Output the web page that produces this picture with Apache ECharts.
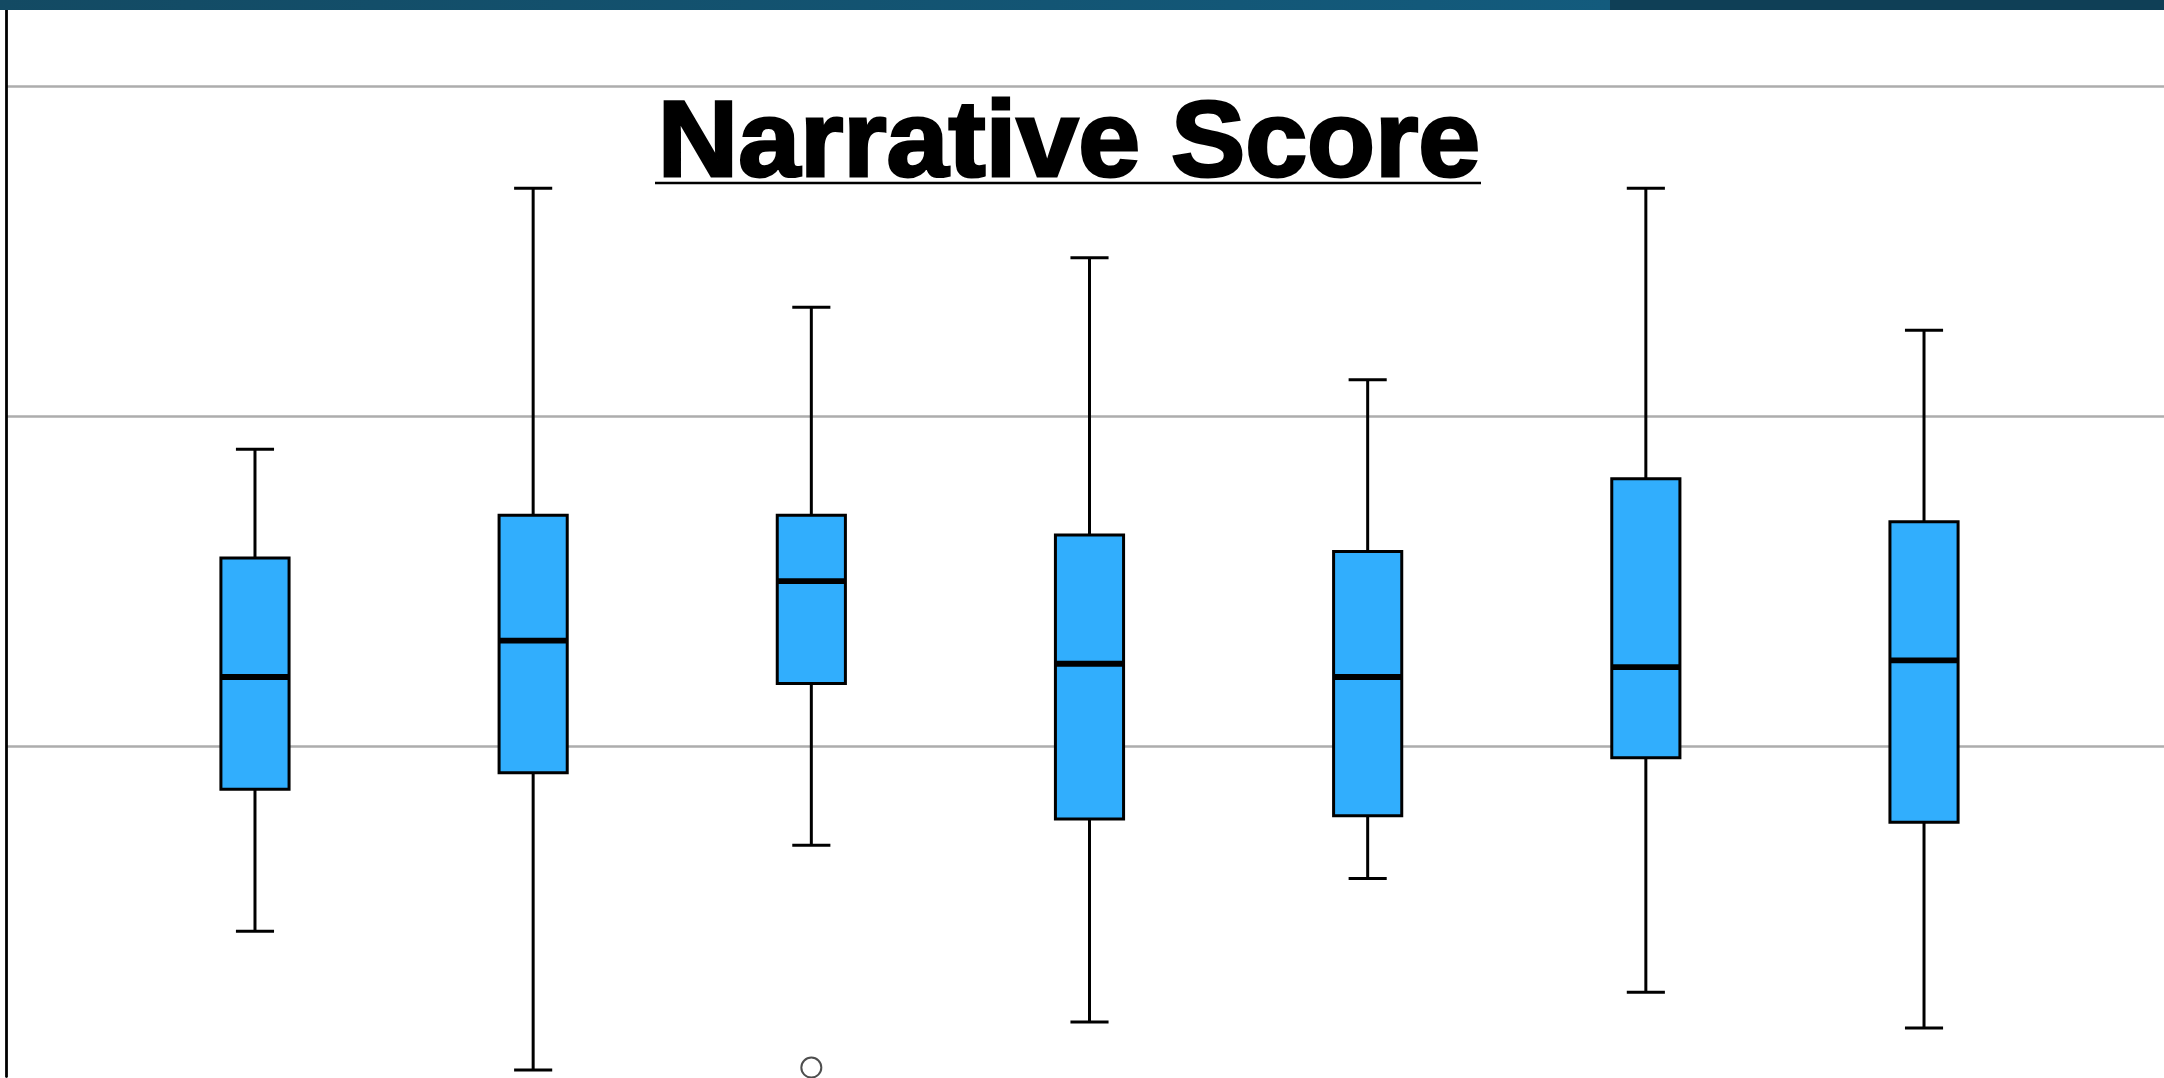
<!DOCTYPE html>
<html>
<head>
<meta charset="utf-8">
<script src="https://cdn.jsdelivr.net/npm/echarts@6/dist/echarts.min.js"></script>
<style>
html,body{margin:0;padding:0;background:#ffffff;}
#chart{width:2164px;height:1078px;}
</style>
</head>
<body>
<div id="chart"></div>
<script>
// ---- data ----
const titleText = 'Narrative Score';
const categories = ['1', '2', '3', '4', '5', '6', '7'];
const lowWhisker   = [1.44, 1.02, 1.70, 1.165, 1.60, 1.255, 1.147];
const q1Values     = [1.87, 1.92, 2.19, 1.78, 1.79, 1.965, 1.77];
const medianValues = [2.21, 2.32, 2.50, 2.25, 2.21, 2.24, 2.26];
const q3Values     = [2.57, 2.70, 2.70, 2.64, 2.59, 2.81, 2.68];
const highWhisker  = [2.90, 3.69, 3.33, 3.48, 3.11, 3.69, 3.26];
const outlierPoints = [[2, 1.027]]; // [category index, value]
const yMin = 1, yMax = 4.23, yInterval = 1;

// ---- chart ----
const chart = echarts.init(document.getElementById('chart'), null, {renderer: 'canvas'});

const boxData = categories.map((c, i) => [i, lowWhisker[i], q1Values[i], medianValues[i], q3Values[i], highWhisker[i]]);

function lineStyle(w) { return {stroke: '#000000', lineWidth: w}; }

const option = {
  animation: false,
  backgroundColor: '#ffffff',
  grid: [
    {left: 6, right: 0, top: 10, bottom: 1.5},
    {left: 115.9, width: 1947.2, top: 10, bottom: 1.5}
  ],
  xAxis: [
    {gridIndex: 0, type: 'value', min: 0, max: 1, show: false},
    {gridIndex: 1, type: 'category', data: categories, show: false}
  ],
  yAxis: [
    {
      gridIndex: 0, type: 'value', min: yMin, max: yMax, interval: yInterval,
      axisLine: {show: true, onZero: false, lineStyle: {color: '#000000', width: 2.8}},
      axisTick: {show: false},
      axisLabel: {show: false},
      splitLine: {show: true, showMinLine: false, showMaxLine: false, lineStyle: {color: '#adadad', width: 2.6}}
    },
    {
      gridIndex: 1, type: 'value', min: yMin, max: yMax, interval: yInterval, show: false,
      splitLine: {show: false}
    }
  ],
  series: [
    {
      type: 'custom',
      xAxisIndex: 1, yAxisIndex: 1,
      data: boxData,
      encode: {x: 0, y: [1, 2, 3, 4, 5]},
      clip: false,
      z: 3,
      renderItem: function (params, api) {
        const idx = api.value(0);
        const low = api.coord([idx, api.value(1)]);
        const q1 = api.coord([idx, api.value(2)]);
        const med = api.coord([idx, api.value(3)]);
        const q3 = api.coord([idx, api.value(4)]);
        const high = api.coord([idx, api.value(5)]);
        const cx = low[0];
        const band = api.size([1, 0])[0];
        const boxW = band * 0.245;
        const capW = band * 0.137;
        return {
          type: 'group',
          children: [
            {type: 'line', shape: {x1: cx, y1: high[1], x2: cx, y2: q3[1]}, style: lineStyle(3)},
            {type: 'line', shape: {x1: cx, y1: q1[1], x2: cx, y2: low[1]}, style: lineStyle(3)},
            {type: 'line', shape: {x1: cx - capW / 2, y1: high[1], x2: cx + capW / 2, y2: high[1]}, style: lineStyle(3)},
            {type: 'line', shape: {x1: cx - capW / 2, y1: low[1], x2: cx + capW / 2, y2: low[1]}, style: lineStyle(3)},
            {type: 'rect', shape: {x: cx - boxW / 2, y: q3[1], width: boxW, height: q1[1] - q3[1]},
             style: {fill: '#31aefd', stroke: '#000000', lineWidth: 3}},
            {type: 'line', shape: {x1: cx - boxW / 2, y1: med[1], x2: cx + boxW / 2, y2: med[1]}, style: lineStyle(5.8)}
          ]
        };
      }
    },
    {
      type: 'scatter',
      xAxisIndex: 1, yAxisIndex: 1,
      data: outlierPoints,
      symbol: 'emptyCircle',
      symbolSize: 20,
      clip: false,
      z: 4,
      itemStyle: {color: '#222222', borderColor: '#222222', borderWidth: 2.8}
    }
  ],
  graphic: [
    {
      type: 'rect', z: 10, silent: true,
      shape: {x: 0, y: 0, width: 1610, height: 10},
      style: {fill: {type: 'linear', x: 0, y: 0, x2: 1, y2: 0,
        colorStops: [{offset: 0, color: '#134a63'}, {offset: 1, color: '#135b7d'}]}}
    },
    {
      type: 'rect', z: 10, silent: true,
      shape: {x: 1610, y: 0, width: 554, height: 10},
      style: {fill: '#0f3f56'}
    },
    {
      type: 'text', z: 10, silent: true,
      x: 1069, y: 146, scaleX: 1.03,
      style: {
        text: titleText,
        font: 'bold 108px "Liberation Sans", Arial, sans-serif',
        fill: '#000000',
        stroke: '#000000',
        lineWidth: 3,
        align: 'center',
        verticalAlign: 'middle'
      }
    },
    {
      type: 'line', z: 10, silent: true,
      shape: {x1: 655, y1: 183, x2: 1481, y2: 183},
      style: {stroke: '#000000', lineWidth: 2.4}
    }
  ]
};

chart.setOption(option);
</script>
</body>
</html>
